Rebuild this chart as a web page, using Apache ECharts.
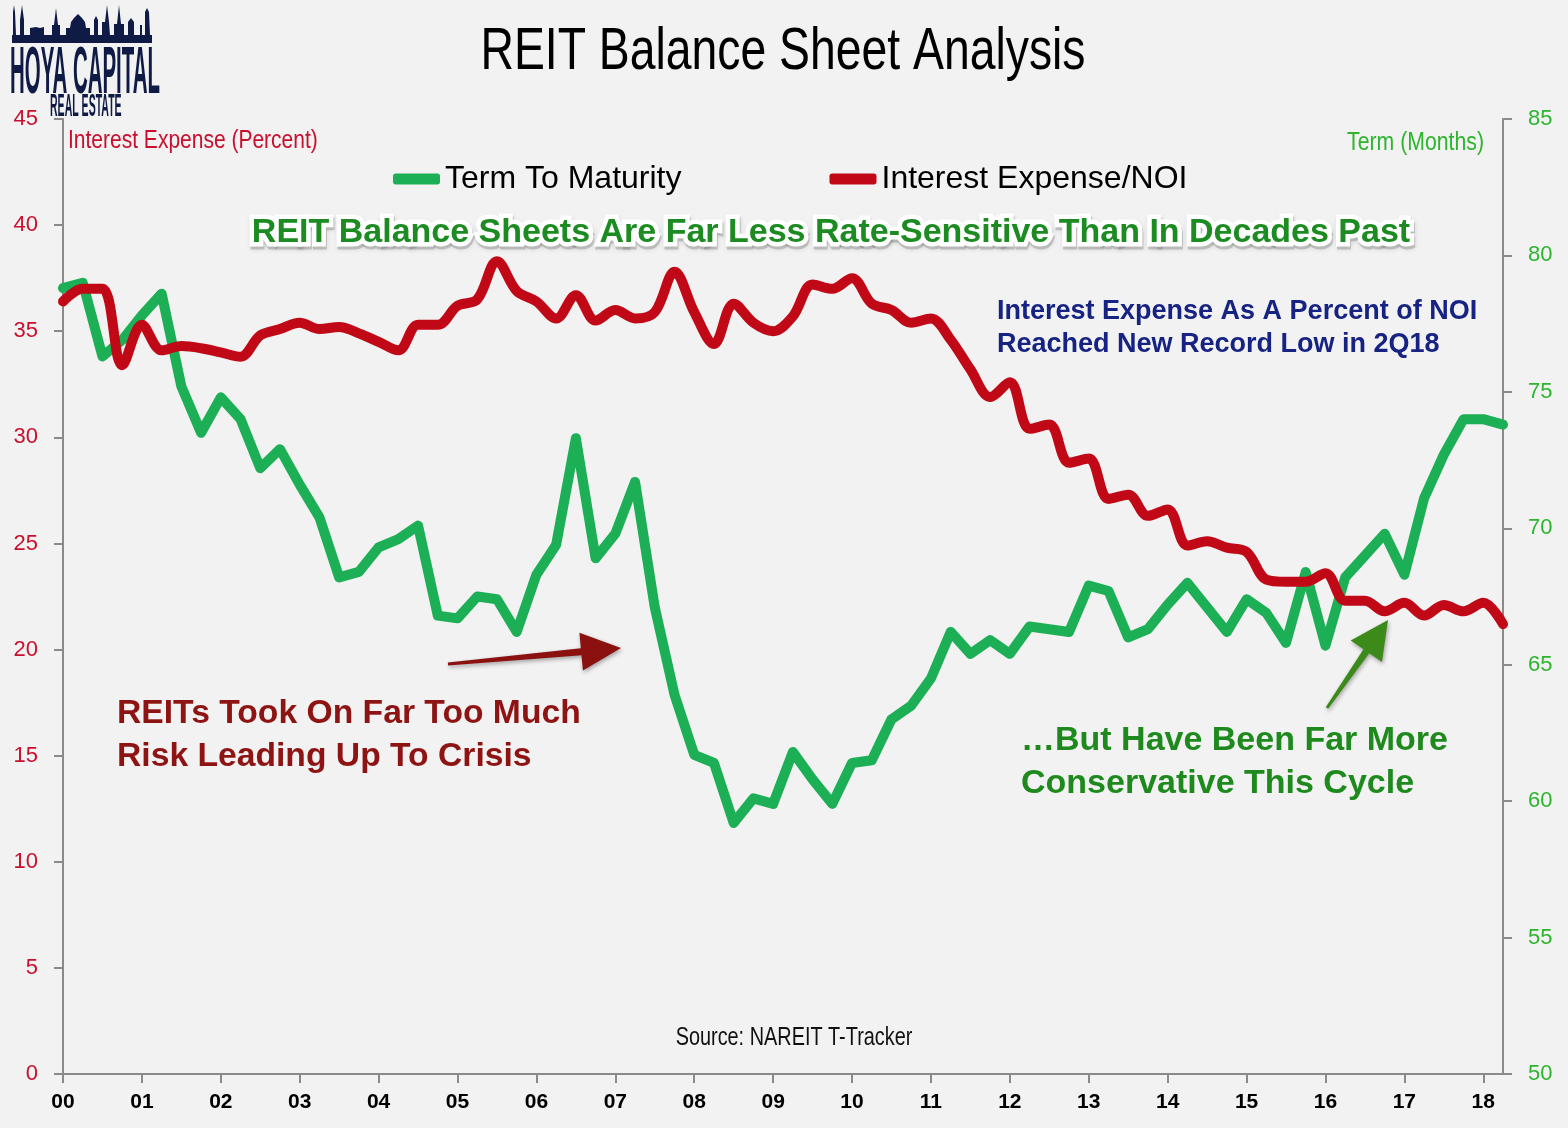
<!DOCTYPE html>
<html>
<head>
<meta charset="utf-8">
<script src="https://cdn.jsdelivr.net/npm/echarts@6/dist/echarts.min.js"></script>
<style>
  html, body { margin: 0; padding: 0; background: #F2F2F2; }
  #chart { width: 1568px; height: 1128px; }
</style>
</head>
<body>
<div id="chart"></div>
<script>
// Quarterly categories 2000Q1 .. 2018Q2
const quarters = [
  '00Q1','00Q2','00Q3','00Q4','01Q1','01Q2','01Q3','01Q4','02Q1','02Q2','02Q3','02Q4',
  '03Q1','03Q2','03Q3','03Q4','04Q1','04Q2','04Q3','04Q4','05Q1','05Q2','05Q3','05Q4',
  '06Q1','06Q2','06Q3','06Q4','07Q1','07Q2','07Q3','07Q4','08Q1','08Q2','08Q3','08Q4',
  '09Q1','09Q2','09Q3','09Q4','10Q1','10Q2','10Q3','10Q4','11Q1','11Q2','11Q3','11Q4',
  '12Q1','12Q2','12Q3','12Q4','13Q1','13Q2','13Q3','13Q4','14Q1','14Q2','14Q3','14Q4',
  '15Q1','15Q2','15Q3','15Q4','16Q1','16Q2','16Q3','16Q4','17Q1','17Q2','17Q3','17Q4',
  '18Q1','18Q2'
];

// Term to maturity (months) - right axis
const termToMaturity = [
  78.8, 79.0, 76.3, 76.9, 77.8, 78.6, 75.2, 73.5, 74.8, 74.0, 72.2, 72.9,
  71.6, 70.4, 68.2, 68.4, 69.3, 69.6, 70.1, 66.8, 66.7, 67.5, 67.4, 66.2,
  68.3, 69.4, 73.3, 68.9, 69.8, 71.7, 67.1, 63.9, 61.7, 61.4, 59.2, 60.1,
  59.9, 61.8, 60.8, 59.9, 61.4, 61.5, 63.0, 63.5, 64.5, 66.2, 65.4, 65.9,
  65.4, 66.4, 66.3, 66.2, 67.9, 67.7, 66.0, 66.3, 67.2, 68.0, 67.1, 66.2,
  67.4, 66.9, 65.8, 68.4, 65.7, 68.2, 69.0, 69.8, 68.3, 71.1, 72.7, 74.0,
  74.0, 73.8
];

// Interest expense / NOI (percent) - left axis
const interestExpenseNOI = [
  36.4, 37.0, 37.0, 33.4, 35.3, 34.1, 34.3, 34.2, 34.0, 33.8, 34.8, 35.1,
  35.4, 35.1, 35.2, 34.9, 34.5, 34.1, 35.3, 35.3, 36.2, 36.5, 38.3, 36.9,
  36.4, 35.6, 36.7, 35.5, 36.0, 35.6, 35.9, 37.8, 35.9, 34.4, 36.3, 35.4,
  35.0, 35.7, 37.2, 37.0, 37.5, 36.3, 36.0, 35.4, 35.6, 34.6, 33.2, 31.9,
  32.6, 30.4, 30.6, 28.8, 29.0, 27.1, 27.3, 26.3, 26.6, 24.9, 25.1, 24.8,
  24.6, 23.3, 23.2, 23.2, 23.6, 22.3, 22.3, 21.8, 22.2, 21.6, 22.1, 21.8,
  22.2, 21.2
];

const seriesNames = ['Term To Maturity', 'Interest Expense/NOI'];
const leftTitle = 'Interest Expense (Percent)';
const rightTitle = 'Term (Months)';
const subtitle = 'REIT Balance Sheets Are Far Less Rate-Sensitive Than In Decades Past';

const SANS = "'Liberation Sans', Arial, sans-serif";

const GREEN = '#1CAF55';
const RED = '#C10816';
const NAVY = '#0F1B45';

function arrow(tail, tip, headLen, headHalf, shaftTail, shaftHead, color) {
  const dx = tip[0] - tail[0], dy = tip[1] - tail[1];
  const L = Math.sqrt(dx * dx + dy * dy);
  const ux = dx / L, uy = dy / L, nx = -uy, ny = ux;
  const bx = tip[0] - ux * headLen, by = tip[1] - uy * headLen;
  const pts = [
    [tail[0] + nx * shaftTail, tail[1] + ny * shaftTail],
    [bx + nx * shaftHead, by + ny * shaftHead],
    [bx + nx * headHalf, by + ny * headHalf],
    tip,
    [bx - nx * headHalf, by - ny * headHalf],
    [bx - nx * shaftHead, by - ny * shaftHead],
    [tail[0] - nx * shaftTail, tail[1] - ny * shaftTail]
  ];
  return {
    type: 'polygon', shape: { points: pts },
    style: { fill: color, shadowColor: 'rgba(0,0,0,0.35)', shadowBlur: 4, shadowOffsetX: 1, shadowOffsetY: 2 },
    z: 50
  };
}

const skyline = [
  [12,43],[12,35],[13,35],[13,12],[14,5],[15,12],[16,35],[20,35],[20,20],[22,5],[24,20],[24,35],
  [30,35],[30,28],[36,27],[40,28],[44,27],[44,35],[52,35],[52,25],[54,25],[56,8],[58,25],[60,25],
  [60,35],[66,35],[66,28],[70,28],[71,22],[74,18],[78,14],[82,18],[85,22],[86,28],[90,28],[90,35],
  [94,35],[94,20],[96,16],[98,20],[98,35],[102,35],[102,22],[105,22],[107,5],[109,22],[110,35],
  [114,35],[114,24],[117,24],[119,5],[121,24],[124,24],[124,35],[128,35],[128,22],[131,18],[134,22],
  [134,35],[140,35],[140,25],[142,25],[142,35],[145,35],[145,12],[147,8],[149,12],[150,35],[152,35],[152,43]
];

const chart = echarts.init(document.getElementById('chart'), null, { renderer: 'canvas' });

function txt(x, y, text, color, font, align, sx, extra, z) {
  const style = Object.assign({ text: text, fill: color, font: font, textAlign: align, textVerticalAlign: 'middle' }, extra || {});
  return { type: 'text', x: x, y: y, scaleX: sx, z: z || 20, style: style };
}

const option = {
  backgroundColor: '#F2F2F2',
  animation: false,
  grid: { left: 63, right: 65, top: 119, bottom: 54, containLabel: false },
  legend: {
    top: 158,
    left: 388,
    itemWidth: 47,
    itemHeight: 11,
    itemGap: 148,
    icon: 'roundRect',
    textStyle: { fontSize: 32, fontFamily: SANS, color: '#000' },
    data: seriesNames
  },
  xAxis: {
    type: 'category',
    data: quarters,
    boundaryGap: false,
    axisLine: { lineStyle: { color: '#8A8A8A', width: 2 } },
    axisTick: { show: true, interval: 3, length: 9, lineStyle: { color: '#8A8A8A', width: 2 } },
    axisLabel: {
      interval: 3,
      margin: 18,
      color: '#000',
      fontSize: 21,
      fontWeight: 'bold',
      fontFamily: SANS,
      formatter: function (v) { return v.slice(0, 2); }
    },
    splitLine: { show: false }
  },
  yAxis: [
    {
      type: 'value', position: 'left', min: 0, max: 45, interval: 5,
      axisLine: { show: true, lineStyle: { color: '#8A8A8A', width: 2 } },
      axisTick: { show: true, length: 9, lineStyle: { color: '#8A8A8A', width: 2 } },
      axisLabel: { margin: 25, color: '#C8102E', fontSize: 22, fontFamily: SANS },
      splitLine: { show: false }
    },
    {
      type: 'value', position: 'right', min: 50, max: 85, interval: 5,
      axisLine: { show: true, lineStyle: { color: '#8A8A8A', width: 2 } },
      axisTick: { show: true, length: 9, lineStyle: { color: '#8A8A8A', width: 2 } },
      axisLabel: { margin: 25, color: '#2DB52D', fontSize: 22, fontFamily: SANS },
      splitLine: { show: false }
    }
  ],
  series: [
    {
      name: seriesNames[0], type: 'line', yAxisIndex: 1, data: termToMaturity,
      symbol: 'none', smooth: false, color: GREEN,
      lineStyle: { color: GREEN, width: 10, cap: 'round', join: 'round' }, z: 2
    },
    {
      name: seriesNames[1], type: 'line', yAxisIndex: 0, data: interestExpenseNOI,
      symbol: 'none', smooth: 0.35, color: RED,
      lineStyle: { color: RED, width: 10, cap: 'round', join: 'round' }, z: 3
    }
  ],
  graphic: [
    // logo
    { type: 'polygon', shape: { points: skyline }, style: { fill: NAVY }, z: 10 },
    { type: 'text', x: 10, y: 42, scaleX: 0.31, z: 10,
      style: { text: 'HOYA CAPITAL', fill: NAVY, font: "bold 66px " + SANS, textVerticalAlign: 'top' } },
    { type: 'text', x: 50, y: 92, scaleX: 0.34, z: 10,
      style: { text: 'REAL ESTATE', fill: NAVY, font: "bold 31px " + SANS, textVerticalAlign: 'top' } },
    // title
    txt(783, 52, 'REIT Balance Sheet Analysis', '#000', "60px " + SANS, 'center', 0.772),
    // axis titles
    txt(68, 141, leftTitle, '#C8102E', "25px " + SANS, 'left', 0.84),
    txt(1484, 143, rightTitle, '#2DB52D', "25px " + SANS, 'right', 0.85),
    // subtitle: soft shadow layer, white halo layer, then green text on top
    txt(832, 236, subtitle, 'rgba(0,0,0,0.01)', "bold 34px " + SANS, 'center', 1,
      { stroke: 'rgba(120,120,120,0.35)', lineWidth: 9, lineJoin: 'round',
        textShadowColor: 'rgba(0,0,0,0.35)', textShadowBlur: 5 }, 18),
    txt(831, 233, subtitle, '#FFFFFF', "bold 34px " + SANS, 'center', 1,
      { stroke: '#FFFFFF', lineWidth: 9, lineJoin: 'round' }, 19),
    txt(831, 233, subtitle, '#1C8C22', "bold 34px " + SANS, 'center', 1, null, 21),
    // navy note
    txt(997, 312, 'Interest Expense As A Percent of NOI', '#172383', "bold 27px " + SANS, 'left', 1),
    txt(997, 345, 'Reached New Record Low in 2Q18', '#172383', "bold 27px " + SANS, 'left', 1),
    // red note
    txt(117, 714, 'REITs Took On Far Too Much', '#8E1414', "bold 34px " + SANS, 'left', 0.99),
    txt(117, 757, 'Risk Leading Up To Crisis', '#8E1414', "bold 34px " + SANS, 'left', 0.99),
    // green note
    txt(1021, 741, '\u2026But Have Been Far More', '#1E8A1E', "bold 34px " + SANS, 'left', 1),
    txt(1021, 784, 'Conservative This Cycle', '#1E8A1E', "bold 34px " + SANS, 'left', 1),
    // source
    txt(794, 1038, 'Source: NAREIT T-Tracker', '#111', "25px " + SANS, 'center', 0.795),
    // arrows
    arrow([448, 664], [621, 648], 40, 19, 1.5, 3.5, '#8B1010'),
    arrow([1327, 708], [1388, 620], 38, 19, 1.5, 3.5, '#3B8A1A')
  ]
};

chart.setOption(option);
</script>
</body>
</html>
